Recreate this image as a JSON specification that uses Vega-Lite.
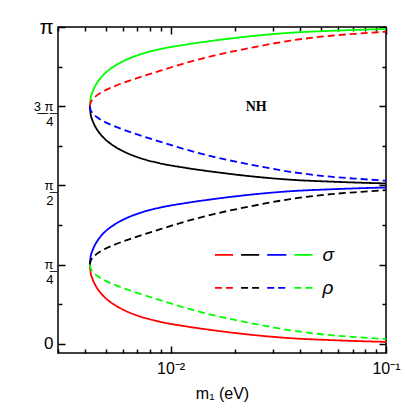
{
  "$schema": "https://vega.github.io/schema/vega-lite/v6.json",
  "width": 328,
  "height": 326,
  "autosize": {"type": "none"},
  "padding": {"left": 58, "top": 27, "right": 19, "bottom": 60},
  "background": "white",
  "config": {
    "view": {"stroke": "black", "strokeWidth": 1.5},
    "axis": {"domain": false, "grid": false, "labelColor": "black", "labelFont": "Liberation Sans", "titleFont": "Liberation Sans", "titleColor": "black"}
  },
  "resolve": {"axis": {"x": "independent", "y": "independent"}},
  "layer": [
    {
      "data": {"values": [
        {"m1": 0.0042147, "gS": 2.3562, "kS": 2.3562, "bS": 0.7854, "rS": 0.7854, "rD": 2.3562, "bD": 2.3562, "kD": 0.7854, "gD": 0.7854},
        {"m1": 0.004251, "gS": 2.4335, "kS": 2.2789, "bS": 0.8627, "rS": 0.7081, "rD": 2.3926, "bD": 2.3198, "kD": 0.8218, "gD": 0.7490},
        {"m1": 0.004320, "gS": 2.4870, "kS": 2.2254, "bS": 0.9162, "rS": 0.6546, "rD": 2.4178, "bD": 2.2946, "kD": 0.8470, "gD": 0.7238},
        {"m1": 0.004414, "gS": 2.5351, "kS": 2.1773, "bS": 0.9643, "rS": 0.6065, "rD": 2.4404, "bD": 2.2720, "kD": 0.8696, "gD": 0.7012},
        {"m1": 0.004559, "gS": 2.5891, "kS": 2.1233, "bS": 1.0183, "rS": 0.5525, "rD": 2.4662, "bD": 2.2462, "kD": 0.8954, "gD": 0.6754},
        {"m1": 0.004760, "gS": 2.6426, "kS": 2.0698, "bS": 1.0718, "rS": 0.4990, "rD": 2.4930, "bD": 2.2194, "kD": 0.9222, "gD": 0.6486},
        {"m1": 0.005078, "gS": 2.7021, "kS": 2.0103, "bS": 1.1313, "rS": 0.4395, "rD": 2.5237, "bD": 2.1887, "kD": 0.9529, "gD": 0.6179},
        {"m1": 0.005474, "gS": 2.7526, "kS": 1.9598, "bS": 1.1818, "rS": 0.3890, "rD": 2.5534, "bD": 2.1590, "kD": 0.9826, "gD": 0.5882},
        {"m1": 0.006096, "gS": 2.8081, "kS": 1.9043, "bS": 1.2373, "rS": 0.3335, "rD": 2.5921, "bD": 2.1203, "kD": 1.0213, "gD": 0.5495},
        {"m1": 0.007164, "gS": 2.8676, "kS": 1.8448, "bS": 1.2968, "rS": 0.2740, "rD": 2.6426, "bD": 2.0698, "kD": 1.0718, "gD": 0.4990},
        {"m1": 0.008886, "gS": 2.9211, "kS": 1.7913, "bS": 1.3503, "rS": 0.2205, "rD": 2.7060, "bD": 2.0064, "kD": 1.1352, "gD": 0.4356},
        {"m1": 0.011627, "gS": 2.9657, "kS": 1.7467, "bS": 1.3949, "rS": 0.1759, "rD": 2.7824, "bD": 1.9300, "kD": 1.2116, "gD": 0.3592},
        {"m1": 0.016055, "gS": 3.0083, "kS": 1.7041, "bS": 1.4375, "rS": 0.1333, "rD": 2.8606, "bD": 1.8518, "kD": 1.2898, "gD": 0.2810},
        {"m1": 0.023393, "gS": 3.0499, "kS": 1.6625, "bS": 1.4791, "rS": 0.0917, "rD": 2.9340, "bD": 1.7784, "kD": 1.3632, "gD": 0.2076},
        {"m1": 0.035976, "gS": 3.0846, "kS": 1.6278, "bS": 1.5138, "rS": 0.0570, "rD": 3.0063, "bD": 1.7061, "kD": 1.4355, "gD": 0.1353},
        {"m1": 0.055338, "gS": 3.1035, "kS": 1.6089, "bS": 1.5327, "rS": 0.0381, "rD": 3.0549, "bD": 1.6575, "kD": 1.4841, "gD": 0.0867},
        {"m1": 0.076403, "gS": 3.1144, "kS": 1.5980, "bS": 1.5436, "rS": 0.0272, "rD": 3.0777, "bD": 1.6347, "kD": 1.5069, "gD": 0.0639},
        {"m1": 0.1, "gS": 3.1213, "kS": 1.5911, "bS": 1.5505, "rS": 0.0203, "rD": 3.0945, "bD": 1.6179, "kD": 1.5237, "gD": 0.0471}
      ]},
      "transform": [{"fold": ["gS", "kS", "bS", "rS", "rD", "bD", "kD", "gD"], "as": ["curve", "value"]}],
      "mark": {"type": "line", "strokeWidth": 1.8, "interpolate": "monotone", "clip": true},
      "encoding": {
        "x": {"field": "m1", "type": "quantitative",
          "scale": {"type": "log", "domain": [0.003, 0.1], "nice": false},
          "axis": {"orient": "bottom", "values": [0.01, 0.1], "ticks": true, "tickSize": 7, "tickColor": "black", "tickWidth": 1.5, "offset": -7,
            "labelExpr": "datum.value < 0.05 ? '10\u207b\u00b2' : '10\u207b\u00b9'",
            "labelFontSize": 16, "labelPadding": 7, "labelFlush": false, "labelOverlap": false,
            "title": "m\u2081 (eV)", "titleFontSize": 16, "titleFontWeight": "normal", "titlePadding": 9}},
        "y": {"field": "value", "type": "quantitative",
          "scale": {"domain": [-0.09, 3.1416], "nice": false, "zero": false},
          "axis": {"orient": "left", "values": [0, 0.785398, 1.570796, 2.356194, 3.14159], "ticks": true, "tickSize": 7, "tickColor": "black", "tickWidth": 1.5, "offset": -7,
            "labelExpr": "datum.value < 0.1 ? '0' : datum.value < 1 ? ['\u03c0\u0332', '4'] : datum.value < 2 ? ['\u03c0\u0332', '2'] : datum.value < 3 ? ['3\u0332 \u0332\u03c0\u0332', '4'] : '\u03c0'",
            "labelFontSize": {"condition": [{"test": "datum.value > 3", "value": 20}, {"test": "datum.value < 0.1", "value": 17}], "value": 13},
            "labelLineHeight": 15, "labelPadding": 5, "labelFlush": false, "labelOverlap": false,
            "title": null}},
        "color": {"field": "curve", "type": "nominal", "legend": null,
          "scale": {"domain": ["gS", "kS", "bS", "rS", "rD", "bD", "kD", "gD"], "range": ["#00ff00", "#000000", "#0000ff", "#ff0000", "#ff0000", "#0000ff", "#000000", "#00ff00"]}},
        "strokeDash": {"field": "curve", "type": "nominal", "legend": null,
          "scale": {"domain": ["gS", "kS", "bS", "rS", "rD", "bD", "kD", "gD"], "range": [[1, 0], [1, 0], [1, 0], [1, 0], [7, 4], [7, 4], [7, 4], [7, 4]]}}
      }
    },
    {
      "data": {"values": [
        {"x1": 0.01606, "x2": 0.01949, "y": 0.882, "curve": "rS"},
        {"x1": 0.02124, "x2": 0.02577, "y": 0.882, "curve": "kS"},
        {"x1": 0.02809, "x2": 0.03447, "y": 0.882, "curve": "bS"},
        {"x1": 0.03757, "x2": 0.04559, "y": 0.882, "curve": "gS"},
        {"x1": 0.01606, "x2": 0.01949, "y": 0.555, "curve": "rD"},
        {"x1": 0.02124, "x2": 0.02577, "y": 0.555, "curve": "kD"},
        {"x1": 0.02809, "x2": 0.03447, "y": 0.555, "curve": "bD"},
        {"x1": 0.03757, "x2": 0.04559, "y": 0.555, "curve": "gD"}
      ]},
      "mark": {"type": "rule", "strokeWidth": 1.8},
      "encoding": {
        "x": {"field": "x1", "type": "quantitative",
          "axis": {"orient": "top", "labels": false, "title": null, "values": [0.01, 0.1], "ticks": true, "tickSize": 7, "tickColor": "black", "tickWidth": 1.5, "offset": -7}},
        "x2": {"field": "x2"},
        "y": {"field": "y", "type": "quantitative",
          "axis": {"orient": "right", "labels": false, "title": null, "values": [0, 0.785398, 1.570796, 2.356194, 3.14159], "ticks": true, "tickSize": 7, "tickColor": "black", "tickWidth": 1.5, "offset": -7}},
        "color": {"field": "curve", "type": "nominal", "legend": null},
        "strokeDash": {"field": "curve", "type": "nominal", "legend": null}
      }
    },
    {
      "data": {"values": [
        {"x": 0.05077, "y": 0.882, "t": "\u03c3"},
        {"x": 0.05077, "y": 0.555, "t": "\u03c1"}
      ]},
      "mark": {"type": "text", "font": "Liberation Sans", "fontStyle": "italic", "fontSize": 19, "align": "left", "baseline": "middle", "color": "black"},
      "encoding": {
        "x": {"field": "x", "type": "quantitative",
          "axis": {"orient": "bottom", "labels": false, "title": null, "values": [0.003, 0.004, 0.005, 0.006, 0.007, 0.008, 0.009, 0.02, 0.03, 0.04, 0.05, 0.06, 0.07, 0.08, 0.09], "ticks": true, "tickSize": 4, "tickColor": "black", "tickWidth": 1.5, "offset": -4}},
        "y": {"field": "y", "type": "quantitative",
          "axis": {"orient": "left", "labels": false, "title": null, "values": [0.392699, 1.178097, 1.963495, 2.748894], "ticks": true, "tickSize": 4, "tickColor": "black", "tickWidth": 1.5, "offset": -4}},
        "text": {"field": "t"}
      }
    },
    {
      "data": {"values": [{"x": 0.02495, "y": 2.344, "t": "NH"}]},
      "mark": {"type": "text", "font": "Liberation Serif", "fontWeight": "bold", "fontSize": 14, "align": "center", "baseline": "middle", "color": "black"},
      "encoding": {
        "x": {"field": "x", "type": "quantitative",
          "axis": {"orient": "top", "labels": false, "title": null, "values": [0.003, 0.004, 0.005, 0.006, 0.007, 0.008, 0.009, 0.02, 0.03, 0.04, 0.05, 0.06, 0.07, 0.08, 0.09], "ticks": true, "tickSize": 4, "tickColor": "black", "tickWidth": 1.5, "offset": -4}},
        "y": {"field": "y", "type": "quantitative",
          "axis": {"orient": "right", "labels": false, "title": null, "values": [0.392699, 1.178097, 1.963495, 2.748894], "ticks": true, "tickSize": 4, "tickColor": "black", "tickWidth": 1.5, "offset": -4}},
        "text": {"field": "t"}
      }
    }
  ]
}
